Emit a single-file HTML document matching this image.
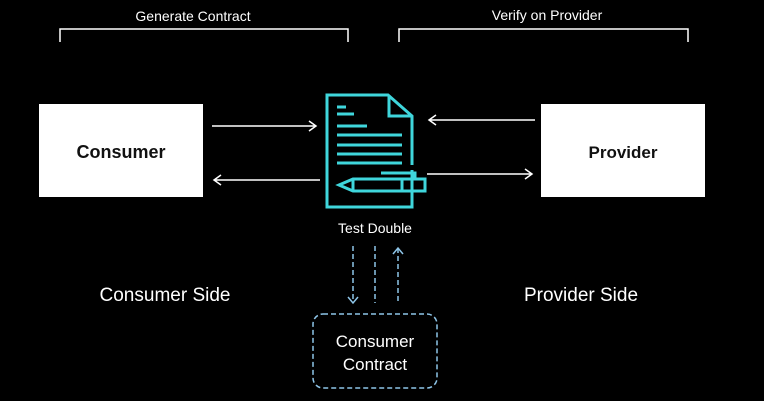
<html><body style="margin:0;background:#000;width:764px;height:401px;overflow:hidden;font-family:'Liberation Sans',sans-serif">
<svg width="764" height="401" xmlns="http://www.w3.org/2000/svg">
<rect width="764" height="401" fill="#000"/>
<g fill="none" stroke="#fff" stroke-width="1.5">
<path d="M60 42 V29 H348 V42"/>
<path d="M399 42 V29 H688 V42"/>
</g>
<text x="193" y="21" fill="#fff" font-size="14" text-anchor="middle">Generate Contract</text>
<text x="547" y="20" fill="#fff" font-size="14" text-anchor="middle">Verify on Provider</text>
<rect x="39" y="104" width="164" height="93" fill="#fff"/>
<rect x="541" y="104" width="164" height="93" fill="#fff"/>
<text x="121" y="158" font-size="18" font-weight="bold" text-anchor="middle" fill="#111">Consumer</text>
<text x="623" y="158" font-size="17" font-weight="bold" text-anchor="middle" fill="#111">Provider</text>
<g stroke="#fff" stroke-width="1.5" fill="none">
<path d="M212 126 H316 M309 121 L316 126 L309 131"/>
<path d="M320 180 H214 M221 175 L214 180 L221 185"/>
<path d="M535 120 H429 M436 115 L429 120 L436 125"/>
<path d="M427 174 H532 M525 169 L532 174 L525 179"/>
</g>
<g stroke="#3fd6dc" stroke-width="3" fill="none">
<path d="M412 170 V207 H327 V95 H388 L412 116 V165"/>
<path d="M389 95 V116 H411"/>
<path d="M337 107 H346 M337 114 H354 M337 126 H367 M337 135 H402 M337 145 H402 M337 154 H402 M337 163 H402"/>
<path d="M381 173 H415 V179"/>
<path d="M353 179 H425 V191 H353 L339 185 Z"/>
<path d="M353 179 V191 M402 179 V191"/>
</g>
<text x="375" y="233" fill="#fff" font-size="14" text-anchor="middle">Test Double</text>
<text x="165" y="301" fill="#fff" font-size="19" text-anchor="middle">Consumer Side</text>
<text x="581" y="301" fill="#fff" font-size="19" text-anchor="middle">Provider Side</text>
<g stroke="#8ec5e8" stroke-width="1.5" fill="none" stroke-dasharray="5 3">
<path d="M353 246 V303"/>
<path d="M375 246 V303"/>
<path d="M398 248 V303"/>
<rect x="313" y="314" width="124" height="74" rx="10"/>
</g>
<g stroke="#8ec5e8" stroke-width="1.5" fill="none">
<path d="M348 297 L353 303 L358 297"/>
<path d="M393 254 L398 248 L403 254"/>
</g>
<text x="375" y="347" fill="#fff" font-size="17" text-anchor="middle">Consumer</text>
<text x="375" y="370" fill="#fff" font-size="17" text-anchor="middle">Contract</text>
</svg>
</body></html>
